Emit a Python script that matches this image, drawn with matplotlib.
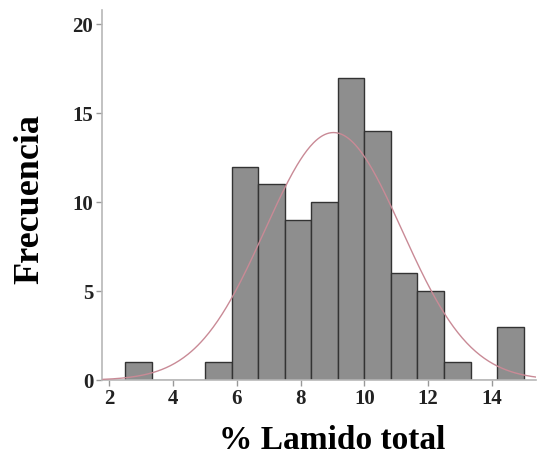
import numpy as np
import matplotlib
matplotlib.use("Agg")
import matplotlib.pyplot as plt

# histogram of % Lamido total (bin edges 2.5 .. 15, width 0.8333)
bin_edges = np.linspace(2.5, 15.0, 16)
counts = [1, 0, 0, 1, 12, 11, 9, 10, 17, 14, 6, 5, 1, 0, 3]
# fitted normal curve
mean_val = 9.03
sd_val = 2.15
x_ticks = [2, 4, 6, 8, 10, 12, 14]
y_ticks = [0, 5, 10, 15, 20]

plt.rcParams["font.family"] = ["Liberation Serif", "DejaVu Serif"]
plt.rcParams["font.weight"] = "bold"

fig = plt.figure(figsize=(5.38, 4.57), dpi=100)
ax = fig.add_axes([0.189, 0.168, 0.808, 0.81])

widths = np.diff(bin_edges)
ax.bar(bin_edges[:-1], counts, width=widths, align="edge",
       color="#8e8e8e", edgecolor="#333333", linewidth=1.0, zorder=2)

n = sum(counts)
xs = np.linspace(1.8, 15.6, 400)
ys = n * widths[0] / (sd_val * np.sqrt(2 * np.pi)) * np.exp(-0.5 * ((xs - mean_val) / sd_val) ** 2)
ax.plot(xs, ys, color="#c98a96", lw=1.0, zorder=3)

ax.set_xlim(1.755, 15.4)
ax.set_ylim(0, 20.8)
ax.set_xticks(x_ticks)
ax.set_yticks(y_ticks)
for s in ["top", "right"]:
    ax.spines[s].set_visible(False)
for s in ["left", "bottom"]:
    ax.spines[s].set_color("#b8b8b8")
    ax.spines[s].set_linewidth(1.2)
ax.tick_params(colors="#999999", labelcolor="#222222", length=4, width=1, labelsize=15, pad=2)
for lbl in ax.get_xticklabels() + ax.get_yticklabels():
    lbl.set_fontweight("bold")

ax.set_xlabel("% Lamido total", fontsize=24, fontweight="bold", va="center")
ax.xaxis.set_label_coords(0.53, -0.163)
ax.set_ylabel("Frecuencia", fontsize=26, fontweight="bold", va="center")
ax.yaxis.set_label_coords(-0.165, 0.49)

fig.savefig("out.png", dpi=100)
